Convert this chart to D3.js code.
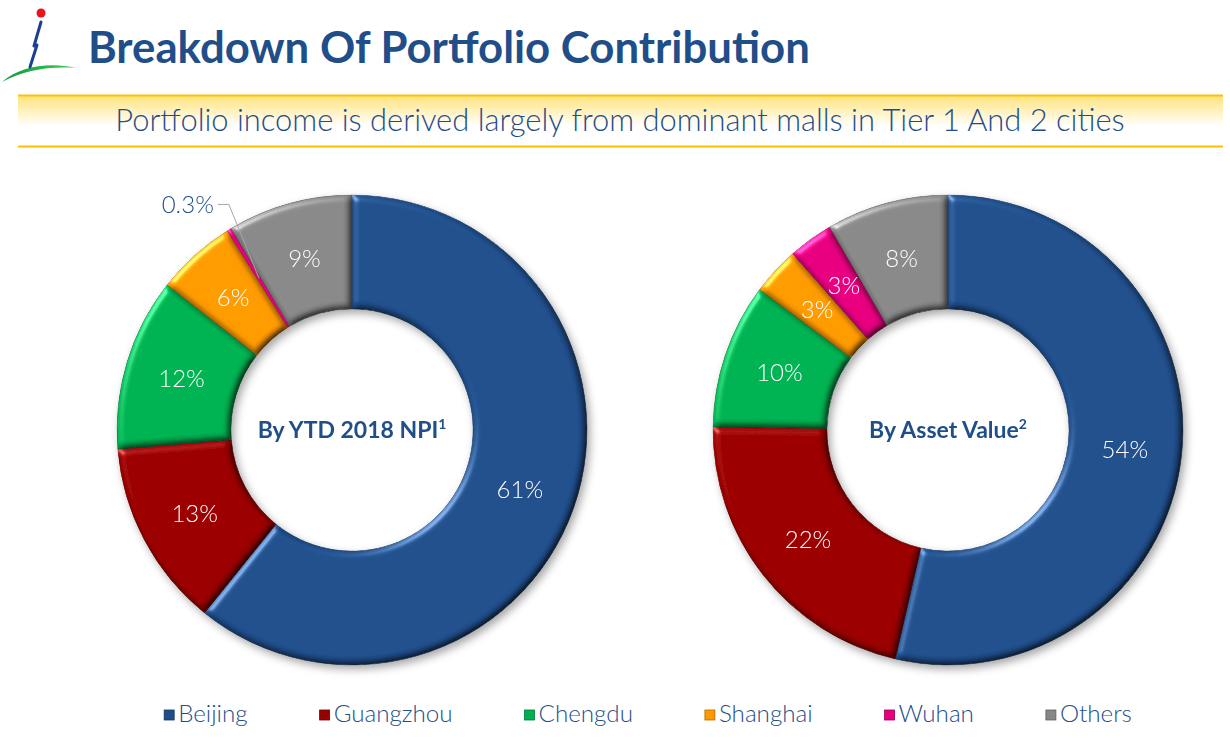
<!DOCTYPE html>
<html>
<head>
<meta charset="utf-8">
<script src="https://cdn.jsdelivr.net/npm/d3@7"></script>
<style>
  body { margin: 0; background: #fff; }
  svg { display: block; font-family: Lato, "Open Sans", sans-serif; }
</style>
</head>
<body>
<div id="chart"></div>
<script>
// Data (shares in %)
const cities = ["Beijing", "Guangzhou", "Chengdu", "Shanghai", "Wuhan", "Others"];
const cityColors = ["#1F4E8B", "#990000", "#00B050", "#FF9900", "#E6007E", "#878787"];
const npiShares = [60.8, 12.9, 11.9, 5.5, 0.3, 8.6];
const assetShares = [53.6, 21.6, 10.0, 3.3, 3.1, 8.4];
const centreTitles = [["By YTD 2018 NPI", "1"], ["By Asset Value", "2"]];

const W = 1230, H = 755;
const textBlue = "#1F4E89";

const svg = d3.select("#chart")
    .append("svg")
        .attr("width", W)
        .attr("height", H);

const defs = svg.append("defs");

// bevel look for each slice
const bevel = defs.append("filter").attr("id", "bevel")
    .attr("color-interpolation-filters", "sRGB")
    .attr("x", "-10%").attr("y", "-10%").attr("width", "120%").attr("height", "120%");
bevel.append("feGaussianBlur").attr("in", "SourceAlpha").attr("stdDeviation", 3.5).attr("result", "blur");
const diff = bevel.append("feDiffuseLighting").attr("in", "blur").attr("surfaceScale", 4)
    .attr("diffuseConstant", 1.155).attr("lighting-color", "#fff").attr("result", "diff");
diff.append("feDistantLight").attr("azimuth", 225).attr("elevation", 60);
const spec = bevel.append("feSpecularLighting").attr("in", "blur").attr("surfaceScale", 4)
    .attr("specularConstant", 0.8).attr("specularExponent", 25).attr("lighting-color", "#fff").attr("result", "spec");
spec.append("feDistantLight").attr("azimuth", 225).attr("elevation", 30);
bevel.append("feComposite").attr("in", "SourceGraphic").attr("in2", "diff")
    .attr("operator", "arithmetic").attr("k1", 1).attr("k2", 0).attr("k3", 0).attr("k4", 0).attr("result", "shaded");
bevel.append("feComposite").attr("in", "spec").attr("in2", "SourceAlpha").attr("operator", "in").attr("result", "specIn");
bevel.append("feComposite").attr("in", "shaded").attr("in2", "specIn")
    .attr("operator", "arithmetic").attr("k1", 0).attr("k2", 1).attr("k3", 0.5).attr("k4", 0).attr("result", "lit");
bevel.append("feComposite").attr("in", "lit").attr("in2", "SourceAlpha").attr("operator", "in");

// shadow under the whole ring
const shadow = defs.append("filter").attr("id", "shadow")
    .attr("x", "-10%").attr("y", "-10%").attr("width", "125%").attr("height", "125%");
shadow.append("feDropShadow").attr("dx", 3).attr("dy", 4).attr("stdDeviation", 4)
    .attr("flood-color", "#000").attr("flood-opacity", 0.35);

// yellow band gradient
const band = defs.append("linearGradient").attr("id", "band")
    .attr("x1", 0).attr("y1", 0).attr("x2", 0).attr("y2", 1);
band.append("stop").attr("offset", "0%").attr("stop-color", "#FFE37A");
band.append("stop").attr("offset", "60%").attr("stop-color", "#FFFFFF");

const swoosh = defs.append("linearGradient").attr("id", "swoosh")
    .attr("x1", 0).attr("y1", 0).attr("x2", 1).attr("y2", 0);
swoosh.append("stop").attr("offset", "0%").attr("stop-color", "#0E9A3A");
swoosh.append("stop").attr("offset", "100%").attr("stop-color", "#3FCB5C");

// fit a text element to a width by changing its font size
function fitWidth(sel, target) {
    const fs = parseFloat(sel.attr("font-size"));
    const w = sel.node().getComputedTextLength();
    sel.attr("font-size", fs * target / w);
}

// ---- header
const logo = svg.append("g");
logo.append("path")
    .attr("d", "M2,82 C20,66 50,62 76,68 C50,66 24,70 2,82 Z")
    .attr("fill", "url(#swoosh)");
logo.append("path")
    .attr("d", "M41,22 L34,46 L37,45 L30,67")
    .attr("fill", "none").attr("stroke", "#1C3F93").attr("stroke-width", 3)
    .attr("stroke-linejoin", "round").attr("stroke-linecap", "round");
logo.append("circle").attr("cx", 41).attr("cy", 13).attr("r", 4.5).attr("fill", "#E8141B");

const title = svg.append("text")
    .attr("x", 88).attr("y", 63)
    .attr("font-size", 38).attr("font-weight", 700)
    .attr("fill", textBlue)
    .text("Breakdown Of Portfolio Contribution");
fitWidth(title, 722);

svg.append("rect").attr("x", 18).attr("y", 95).attr("width", 1205).attr("height", 52).attr("fill", "url(#band)");
svg.append("line").attr("x1", 18).attr("x2", 1223).attr("y1", 95.5).attr("y2", 95.5)
    .attr("stroke", "#FFC000").attr("stroke-width", 2);
svg.append("line").attr("x1", 18).attr("x2", 1223).attr("y1", 146.5).attr("y2", 146.5)
    .attr("stroke", "#FFC000").attr("stroke-width", 2);

const sub = svg.append("text")
    .attr("x", 620).attr("y", 131)
    .attr("text-anchor", "middle")
    .attr("font-size", 25).attr("font-weight", 300)
    .attr("fill", textBlue)
    .text("Portfolio income is derived largely from dominant malls in Tier 1 And 2 cities");
fitWidth(sub, 1010);

// ---- donuts
const outerR = 235, innerR = 121;
const color = d3.scaleOrdinal().domain(cities).range(cityColors);
const pie = d3.pie().sort(null).value(d => d.value);
const arc = d3.arc().innerRadius(innerR).outerRadius(outerR);
const fmt = v => v < 1 ? v.toFixed(1) + "%" : Math.round(v) + "%";

function drawDonut(cx, cy, shares, centre) {
    const data = pie(cities.map((c, i) => ({city: c, value: shares[i]})));
    const g = svg.append("g").attr("transform", `translate(${cx},${cy})`);

    const ring = g.append("g").attr("filter", "url(#shadow)");
    ring.selectAll("path")
        .data(data)
        .join("path")
            .attr("d", arc)
            .attr("fill", d => color(d.data.city))
            .attr("stroke", d => d3.color(color(d.data.city)).darker(1))
            .attr("stroke-width", 0.8)
            .attr("filter", "url(#bevel)");

    // labels: inside for normal slices, outside with a leader for tiny ones
    data.forEach(d => {
        if (d.data.value >= 1) {
            const [x, y] = arc.centroid(d);
            g.append("text")
                .attr("x", x).attr("y", y)
                .attr("text-anchor", "middle").attr("dy", "0.35em")
                .attr("font-size", 24).attr("font-weight", 300)
                .attr("fill", "#fff")
                .text(fmt(d.data.value));
        } else {
            const mid = (d.startAngle + d.endAngle) / 2;
            const [x0, y0] = arc.centroid(d);
            const a = mid + 0.05;
            const x1 = Math.sin(a) * (outerR + 22), y1 = -Math.cos(a) * (outerR + 22);
            const x2 = x1 - 11;
            g.append("polyline")
                .attr("points", [[x0, y0], [x1, y1], [x2, y1]].join(" "))
                .attr("fill", "none").attr("stroke", "#A6A6A6").attr("stroke-width", 1);
            g.append("text")
                .attr("x", x2 - 4).attr("y", y1)
                .attr("text-anchor", "end").attr("dy", "0.35em")
                .attr("font-size", 24).attr("font-weight", 300)
                .attr("fill", textBlue)
                .text(fmt(d.data.value));
        }
    });

    const t = g.append("text")
        .attr("y", 8)
        .attr("text-anchor", "middle")
        .attr("font-size", 23).attr("font-weight", 700)
        .attr("fill", textBlue);
    t.append("tspan").text(centre[0]);
    t.append("tspan").attr("dy", -9).attr("font-size", 14).text(centre[1]);
}

drawDonut(352, 430, npiShares, centreTitles[0]);
drawDonut(948, 430, assetShares, centreTitles[1]);

// ---- legend
const legend = svg.append("g");
const items = legend.selectAll("g")
    .data(cities)
    .join("g");
items.append("rect")
    .attr("y", -12).attr("width", 10).attr("height", 10)
    .attr("fill", d => color(d))
    .attr("stroke", d => d3.color(color(d)).darker(1)).attr("stroke-width", 0.8);
const legendText = items.append("text")
    .attr("x", 14).attr("y", 0)
    .attr("font-size", 20).attr("font-weight", 300)
    .attr("fill", textBlue)
    .text(d => d);

// size the legend font so "Guangzhou" is as wide as in the picture
const gzW = legendText.filter(d => d === "Guangzhou").node().getComputedTextLength();
legendText.attr("font-size", 20 * 119 / gzW);

let xPos = 0;
const offsets = [];
items.each(function() {
    offsets.push(xPos);
    xPos += 14 + d3.select(this).select("text").node().getComputedTextLength() + 72;
});
const totalW = xPos - 72;
const legendX = 648 - totalW / 2;
items.attr("transform", (d, i) => `translate(${legendX + offsets[i]},722)`);
</script>
</body>
</html>
